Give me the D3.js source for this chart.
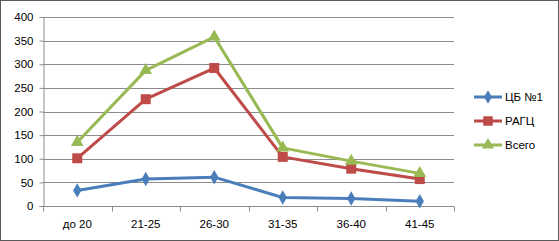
<!DOCTYPE html>
<html>
<head>
<meta charset="utf-8">
<script src="https://cdn.jsdelivr.net/npm/d3@7"></script>
<style>
  body { margin: 0; background: #fff; }
  svg { display: block; font-family: "Liberation Sans", Arial, sans-serif; }
</style>
</head>
<body>
<div id="chart"></div>
<script>
// data
const categories = ["до 20", "21-25", "26-30", "31-35", "36-40", "41-45"];
const cb1 = [33, 57, 61, 18, 16, 10];
const ragc = [101, 226, 292, 104, 79, 57];
const total = [135, 287, 358, 123, 95, 69];
const yTicks = [0, 50, 100, 150, 200, 250, 300, 350, 400];

const series = [
    { name: "ЦБ №1", values: cb1, color: "#4A7EBB", symbol: d3.symbolDiamond, size: 60 },
    { name: "РАГЦ", values: ragc, color: "#BE4B48", symbol: d3.symbolSquare, size: 100 },
    { name: "Всего", values: total, color: "#98B954", symbol: d3.symbolTriangle, size: 70 }
];

const W = 559, H = 241;
const margin = { top: 17, right: 105, bottom: 35, left: 43 };
const width = W - margin.left - margin.right;
const height = H - margin.top - margin.bottom;

const svg = d3.select("#chart").append("svg")
    .attr("width", W)
    .attr("height", H);

// outer frame
svg.append("rect")
    .attr("x", 0.5).attr("y", 0.5)
    .attr("width", W - 1).attr("height", H - 1)
    .attr("fill", "#fff")
    .attr("stroke", "#5a5a5a")
    .attr("stroke-width", 1);

const g = svg.append("g")
    .attr("transform", `translate(${margin.left},${margin.top})`);

const x = d3.scaleBand()
    .domain(categories)
    .range([0, width]);

const y = d3.scaleLinear()
    .domain([0, 400])
    .range([height, 0]);

// gridlines
g.append("g")
    .selectAll("line")
    .data(yTicks.filter(d => d > 0))
    .enter()
    .append("line")
    .attr("x1", 0)
    .attr("x2", width)
    .attr("y1", d => Math.round(y(d)) + 0.5)
    .attr("y2", d => Math.round(y(d)) + 0.5)
    .attr("stroke", "#8c8c8c")
    .attr("stroke-width", 1);

// y axis
const yAxis = g.append("g")
    .attr("transform", "translate(0.5,0)")
    .call(d3.axisLeft(y).tickValues(yTicks).tickSize(4).tickPadding(6));
yAxis.select(".domain").attr("stroke", "#8c8c8c");
yAxis.selectAll(".tick line").attr("stroke", "#8c8c8c");
yAxis.selectAll("text").attr("font-size", 11.5).attr("fill", "#000");

// x axis with ticks at band edges
const xAxis = g.append("g")
    .attr("transform", `translate(0,${Math.round(height) + 0.5})`);
xAxis.append("line")
    .attr("x1", 0).attr("x2", width)
    .attr("stroke", "#8c8c8c");
xAxis.selectAll(".xtick")
    .data(categories.concat(["end"]))
    .enter()
    .append("line")
    .attr("class", "xtick")
    .attr("x1", (d, i) => Math.round(i * x.step()) + 0.5)
    .attr("x2", (d, i) => Math.round(i * x.step()) + 0.5)
    .attr("y1", 0)
    .attr("y2", 5)
    .attr("stroke", "#8c8c8c");
xAxis.selectAll(".xlabel")
    .data(categories)
    .enter()
    .append("text")
    .attr("class", "xlabel")
    .attr("x", d => x(d) + x.bandwidth() / 2)
    .attr("y", 21)
    .attr("text-anchor", "middle")
    .attr("font-size", 11.5)
    .attr("fill", "#000")
    .text(d => d);

const line = d3.line()
    .x((d, i) => x(categories[i]) + x.bandwidth() / 2)
    .y(d => y(d));

series.forEach(s => {
    g.append("path")
        .datum(s.values)
        .attr("fill", "none")
        .attr("stroke", s.color)
        .attr("stroke-width", 3)
        .attr("stroke-linejoin", "round")
        .attr("d", line);

    g.selectAll(null)
        .data(s.values)
        .enter()
        .append("path")
        .attr("transform", (d, i) => `translate(${x(categories[i]) + x.bandwidth() / 2},${y(d)})`)
        .attr("d", d3.symbol().type(s.symbol).size(s.size))
        .attr("fill", s.color);
});

// legend
const legend = svg.append("g")
    .attr("transform", "translate(474,97)");

series.forEach((s, i) => {
    const row = legend.append("g")
        .attr("transform", `translate(0,${i * 24})`);
    row.append("line")
        .attr("x1", 0).attr("x2", 28)
        .attr("stroke", s.color)
        .attr("stroke-width", 3);
    row.append("path")
        .attr("transform", "translate(14,0)")
        .attr("d", d3.symbol().type(s.symbol).size(s.size * 0.9))
        .attr("fill", s.color);
    row.append("text")
        .attr("x", 31)
        .attr("y", 0)
        .attr("dy", "0.35em")
        .attr("font-size", 11.5)
        .attr("fill", "#000")
        .text(s.name);
});
</script>
</body>
</html>
